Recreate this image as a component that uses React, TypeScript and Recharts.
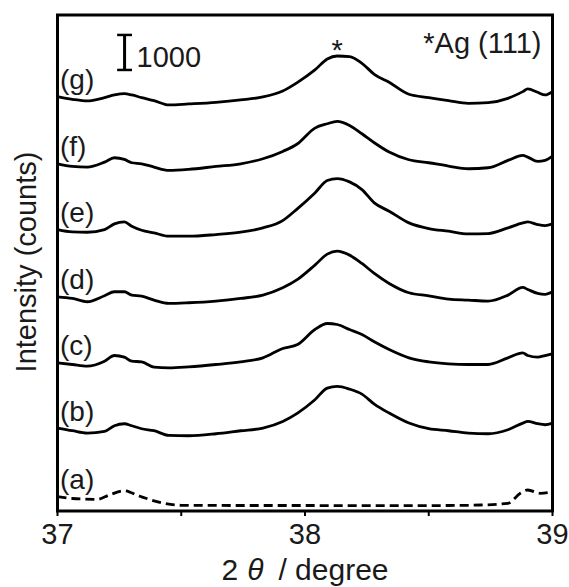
import React from 'react';
import { LineChart, Line, XAxis, YAxis, ReferenceArea, ReferenceLine, ReferenceDot } from 'recharts';

// 2θ grid (degree)
const twoTheta = [37.0, 37.06, 37.12, 37.19, 37.23, 37.27, 37.3, 37.34, 37.39, 37.45, 37.53, 37.64, 37.74, 37.83, 37.91, 37.97, 38.04, 38.09, 38.13, 38.18, 38.23, 38.28, 38.34, 38.42, 38.5, 38.58, 38.66, 38.74, 38.82, 38.88, 38.9, 38.94, 38.97, 39.0];

// Intensities (counts above each trace's own baseline)
const seriesG = [238, 162, 114, 209, 286, 324, 286, 209, 124, 0, 29, 76, 143, 228, 400, 647, 1000, 1314, 1399, 1380, 1190, 876, 647, 305, 209, 124, 48, 67, 190, 381, 457, 362, 286, 381];
const seriesF = [190, 114, 95, 238, 362, 314, 219, 190, 95, 0, 29, 114, 190, 333, 543, 762, 1209, 1333, 1399, 1285, 1047, 790, 524, 305, 219, 124, 48, 76, 286, 428, 381, 257, 286, 409];
const seriesE = [190, 124, 114, 190, 352, 409, 286, 171, 95, 0, 0, 48, 114, 238, 447, 790, 1238, 1590, 1647, 1552, 1333, 952, 714, 381, 219, 143, 67, 76, 238, 381, 409, 333, 305, 352];
const seriesD = [190, 143, 48, 219, 333, 333, 238, 209, 95, 0, 19, 67, 143, 238, 447, 686, 1095, 1409, 1495, 1380, 1142, 857, 571, 305, 219, 124, 95, 67, 238, 457, 400, 286, 257, 333];
const seriesC = [143, 95, 48, 190, 352, 305, 190, 171, 19, 0, 29, 95, 171, 286, 552, 666, 1095, 1266, 1238, 1095, 952, 743, 524, 286, 171, 114, 95, 95, 286, 428, 352, 305, 352, 400];
const seriesB = [219, 143, 76, 124, 286, 343, 286, 200, 143, 10, 0, 57, 143, 219, 409, 647, 1028, 1361, 1409, 1333, 1190, 904, 647, 362, 200, 143, 76, 57, 171, 362, 409, 343, 314, 362];

// vertical stacking offsets (counts) for g, f, e, d, c, b
const stackOffsets = [11600, 9730, 7850, 5930, 4090, 2150];
const traceKeys = ['g', 'f', 'e', 'd', 'c', 'b'];
const traceLabels = ['(g)', '(f)', '(e)', '(d)', '(c)', '(b)'];

// trace (a): own sampling
const aTheta = [37.0, 37.06, 37.16, 37.21, 37.27, 37.33, 37.43, 37.5, 37.78, 38.0, 38.3, 38.58, 38.71, 38.82, 38.87, 38.9, 38.95, 39.0];
const aCounts = [409, 357, 334, 457, 580, 428, 220, 163, 157, 157, 151, 157, 171, 220, 506, 600, 506, 551];

const xTicks = [37, 37.5, 38, 38.5, 39];
const yMax = 14170;
const scaleBarTheta = 37.271;
const scaleBarFrom = 12600;
const scaleBarSize = 1000;
const agPeakTheta = 38.13;

const allSeries = [seriesG, seriesF, seriesE, seriesD, seriesC, seriesB];

const tableData = twoTheta.map((t, i) => {
  const row: Record<string, number> = { t };
  traceKeys.forEach((k, j) => {
    row[k] = allSeries[j][i] + stackOffsets[j];
  });
  return row;
});
const aData = aTheta.map((t, i) => ({ t, a: aCounts[i] }));

const FONT = '"Liberation Sans", Arial, Helvetica, sans-serif';
const TXT = '#1a1a1a';

const textShape = (txt: string, dx: number, dy: number, anchor: string, size = 29) => (p: any) => (
  <text x={p.cx + dx} y={p.cy + dy} textAnchor={anchor} fontSize={size} fontFamily={FONT} fill={TXT}>
    {txt}
  </text>
);

const XTick = (props: any) => {
  const { x, y, payload } = props;
  if (!Number.isInteger(payload.value)) return null;
  return (
    <text x={x} y={y} dy={26} textAnchor="middle" fontSize={29} fontFamily={FONT} fill={TXT}>
      {payload.value}
    </text>
  );
};

const XLabel = (props: any) => {
  const vb = props.viewBox;
  const cx = vb.x + vb.width / 2;
  return (
    <text x={cx} y={vb.y + 69} textAnchor="middle" fontSize={30} fontFamily={FONT} fill={TXT}>
      <tspan>2</tspan>
      <tspan dx={9} fontStyle="italic">θ</tspan>
      <tspan dx={15}>/ degree</tspan>
    </text>
  );
};

const YLabel = () => {
  const cx = 26;
  const cy = 262;
  return (
    <text x={cx} y={cy} transform={`rotate(-90, ${cx}, ${cy})`} textAnchor="middle" dominantBaseline="central" fontSize={29} fontFamily={FONT} fill={TXT}>
      Intensity (counts)
    </text>
  );
};

const gPeak = Math.max(...seriesG) + stackOffsets[0];

export default function App() {
  return (
    <div style={{ position: 'absolute', left: 0, top: 0, width: 569, height: 587, background: '#fff' }}>
      <LineChart width={569} height={587} data={tableData} margin={{ top: 15, right: 16.5, left: 0, bottom: 0 }}>
        <XAxis
          dataKey="t"
          type="number"
          domain={[37, 39]}
          ticks={xTicks}
          allowDataOverflow
          height={76}
          axisLine={false}
          tickLine={{ stroke: '#000', strokeWidth: 2 }}
          tickSize={5}
          tick={<XTick />}
          label={{ content: <XLabel /> } as any}
        />
        <YAxis
          type="number"
          domain={[0, yMax]}
          allowDataOverflow
          width={57.5}
          tick={false}
          axisLine={false}
          tickLine={false}
          label={{ content: <YLabel /> } as any}
        />
        <ReferenceArea x1={37} x2={39} y1={0} y2={yMax} fill="none" stroke="#000" strokeWidth={3} ifOverflow="visible" />
        {traceKeys.map((k) => (
          <Line key={k} type="monotone" dataKey={k} stroke="#000" strokeWidth={2.8} dot={false} isAnimationActive={false} />
        ))}
        <Line data={aData} type="monotone" dataKey="a" stroke="#000" strokeWidth={2.8} strokeDasharray="9 5" dot={false} isAnimationActive={false} />
        {traceKeys.map((k, j) => (
          <ReferenceDot key={'lab' + k} x={37} y={allSeries[j][0] + stackOffsets[j] + 210} r={0} ifOverflow="visible" shape={textShape(traceLabels[j], 2.5, 0, 'start', 28)} />
        ))}
        <ReferenceDot x={37} y={aCounts[0] + 210} r={0} ifOverflow="visible" shape={textShape('(a)', 2.5, 0, 'start', 28)} />
        <ReferenceDot x={agPeakTheta} y={gPeak} r={0} ifOverflow="visible" shape={textShape('*', 0, 4, 'middle', 29)} />
        <ReferenceDot x={39} y={yMax} r={0} ifOverflow="visible" shape={textShape('*Ag (111)', -11, 38, 'end', 29)} />
        <ReferenceLine segment={[{ x: scaleBarTheta, y: scaleBarFrom }, { x: scaleBarTheta, y: scaleBarFrom + scaleBarSize }]} stroke="#000" strokeWidth={3} ifOverflow="visible" />
        <ReferenceLine segment={[{ x: scaleBarTheta - 0.03, y: scaleBarFrom }, { x: scaleBarTheta + 0.03, y: scaleBarFrom }]} stroke="#000" strokeWidth={2.5} ifOverflow="visible" />
        <ReferenceLine segment={[{ x: scaleBarTheta - 0.03, y: scaleBarFrom + scaleBarSize }, { x: scaleBarTheta + 0.03, y: scaleBarFrom + scaleBarSize }]} stroke="#000" strokeWidth={2.5} ifOverflow="visible" />
        <ReferenceDot x={scaleBarTheta} y={scaleBarFrom} r={0} ifOverflow="visible" shape={textShape('1000', 12, -3, 'start', 29)} />
      </LineChart>
    </div>
  );
}
